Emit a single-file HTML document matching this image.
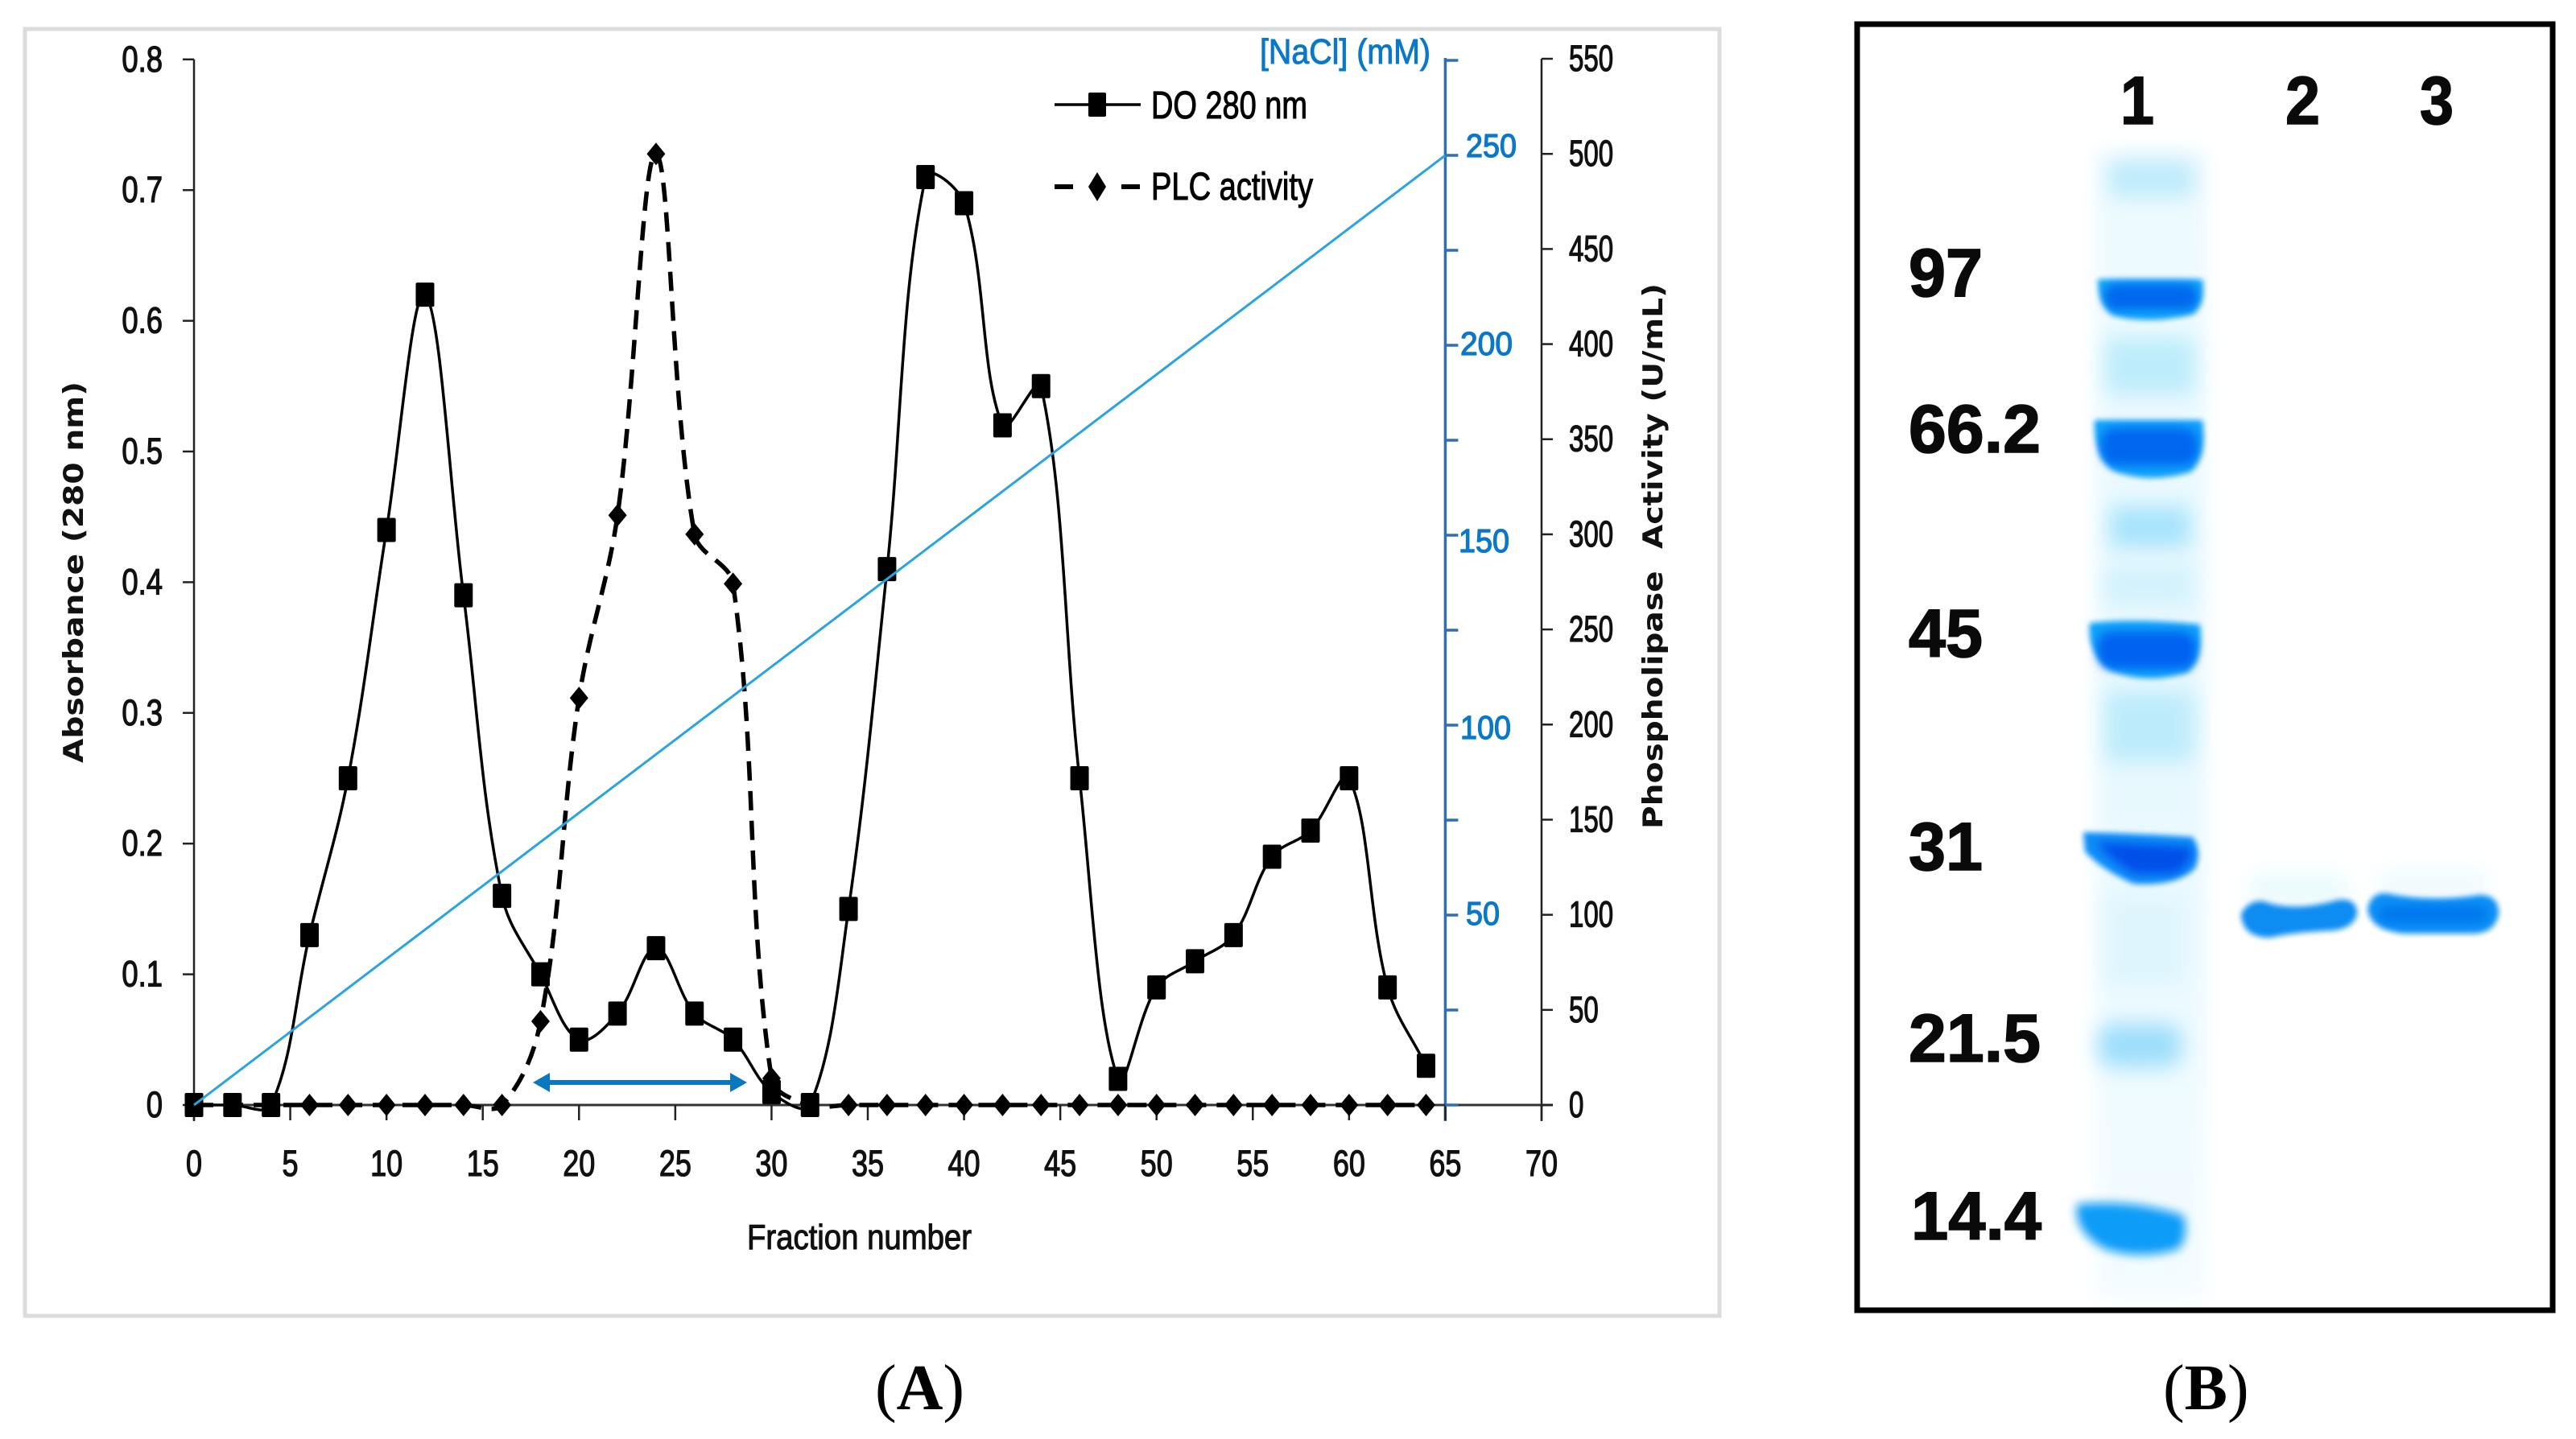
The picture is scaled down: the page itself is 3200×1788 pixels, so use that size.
<!DOCTYPE html>
<html>
<head>
<meta charset="utf-8">
<title>Chromatography and SDS-PAGE</title>
<style>
html,body{margin:0;padding:0;background:#fff;width:3200px;height:1788px;overflow:hidden}
svg{position:absolute;left:0;top:0}
text{font-family:"Liberation Sans",sans-serif}
.verd{font-family:"DejaVu Sans",sans-serif;font-weight:bold;fill:#111}
.blue{fill:#0a78c8;stroke:#0a78c8;stroke-width:1.3;font-size:41px}
.gel{font-weight:bold;font-size:84px;fill:#0a0a0a;stroke:#0a0a0a;stroke-width:1.6}
.cap{font-family:"Liberation Serif",serif;font-size:80px;fill:#000}
</style>
</head>
<body>
<svg id="fig" xmlns="http://www.w3.org/2000/svg" width="3200" height="1788" viewBox="0 0 3200 1788">
  <defs>
    <filter id="b2" x="-30%" y="-50%" width="160%" height="200%"><feGaussianBlur stdDeviation="3.5"/></filter>
    <filter id="b5" x="-30%" y="-50%" width="160%" height="200%"><feGaussianBlur stdDeviation="6"/></filter>
    <filter id="b9" x="-50%" y="-80%" width="200%" height="260%"><feGaussianBlur stdDeviation="13"/></filter>
    <filter id="b12" x="-30%" y="-5%" width="160%" height="110%"><feGaussianBlur stdDeviation="12"/></filter>
    <linearGradient id="laneGrad" x1="0" y1="0" x2="0" y2="1">
      <stop offset="0" stop-color="#eefafe"/><stop offset=".5" stop-color="#e6f8fe"/><stop offset="1" stop-color="#f4fcff"/>
    </linearGradient>
  </defs>

  <rect x="31" y="36" width="2105" height="1599" fill="#fff" stroke="#dcdcdc" stroke-width="5"/>
  <g id="chart"></g>

  <text class="verd" font-size="34" textLength="474" lengthAdjust="spacingAndGlyphs" transform="translate(103,948) rotate(-90)">Absorbance (280 nm)</text>
  <text class="verd" font-size="34" textLength="678" lengthAdjust="spacingAndGlyphs" xml:space="preserve" transform="translate(2065,1030) rotate(-90)">Phospholipase  Activity (U/mL)</text>
  <text x="928" y="1552" font-size="44" fill="#111" stroke="#111" stroke-width="1.1" textLength="279" lengthAdjust="spacingAndGlyphs">Fraction number</text>

  <text x="1565" y="79" font-size="44" fill="#0a78c8" stroke="#0a78c8" stroke-width="1" textLength="212" lengthAdjust="spacingAndGlyphs">[NaCl] (mM)</text>
  <text class="blue" x="1821" y="195" textLength="63" lengthAdjust="spacingAndGlyphs">250</text>
  <text class="blue" x="1814" y="441" textLength="65" lengthAdjust="spacingAndGlyphs">200</text>
  <text class="blue" x="1812" y="686" textLength="63" lengthAdjust="spacingAndGlyphs">150</text>
  <text class="blue" x="1814" y="918" textLength="63" lengthAdjust="spacingAndGlyphs">100</text>
  <text class="blue" x="1821" y="1149" textLength="42" lengthAdjust="spacingAndGlyphs">50</text>

  <g>
    <line x1="1310" y1="130" x2="1417" y2="130" stroke="#000" stroke-width="3.5"/>
    <rect x="1352" y="115" width="22" height="30" rx="2" fill="#000"/>
    <text x="1430" y="147" font-size="48" fill="#000" stroke="#000" stroke-width="1.1" textLength="194" lengthAdjust="spacingAndGlyphs">DO 280 nm</text>
    <line x1="1310" y1="232" x2="1333" y2="232" stroke="#000" stroke-width="6"/>
    <line x1="1393" y1="232" x2="1416" y2="232" stroke="#000" stroke-width="6"/>
    <polygon points="1363,214 1374,232 1363,250 1352,232" fill="#000"/>
    <text x="1430" y="248" font-size="48" fill="#000" stroke="#000" stroke-width="1.1" textLength="201" lengthAdjust="spacingAndGlyphs">PLC activity</text>
  </g>

  <g fill="#0a78bd">
    <rect x="675" y="1342" width="240" height="6"/>
    <polygon points="662,1345 683,1333 683,1357"/>
    <polygon points="928,1345 907,1333 907,1357"/>
  </g>

  <text class="cap" x="1087" y="1751">(<tspan font-weight="bold">A</tspan>)</text>

  <!-- Gel panel -->
  <g>
    <rect x="2604" y="185" width="136" height="1430" fill="url(#laneGrad)" filter="url(#b12)"/>
    <rect x="2620" y="200" width="105" height="45" fill="#bfeafb" filter="url(#b9)"/>
    <rect x="2616" y="420" width="110" height="70" fill="#bdecfc" filter="url(#b9)"/>
    <rect x="2622" y="630" width="98" height="50" fill="#a6e3fc" filter="url(#b9)"/>
    <rect x="2616" y="705" width="108" height="45" fill="#d2f2fd" filter="url(#b9)"/>
    <rect x="2616" y="860" width="108" height="85" fill="#bcebfc" filter="url(#b9)"/>
    <rect x="2616" y="1115" width="98" height="110" fill="#def5fd" filter="url(#b9)"/>
    <rect x="2795" y="1085" width="120" height="40" fill="#eafafd" filter="url(#b9)"/>
    <rect x="2955" y="1080" width="135" height="35" fill="#eefafe" filter="url(#b9)"/>

    <g>
      <path d="M2606 347 L2736 347 Q2740 375 2725 390 Q2670 404 2625 392 Q2606 378 2606 347Z" fill="#0ea4fb" filter="url(#b2)"/>
      <rect x="2614" y="353" width="116" height="32" rx="14" fill="#0068ee" filter="url(#b5)"/>
    </g>
    <g>
      <path d="M2602 522 L2736 522 Q2742 565 2722 586 Q2670 602 2625 585 Q2600 565 2602 522Z" fill="#0ea0fb" filter="url(#b2)"/>
      <rect x="2610" y="532" width="120" height="46" rx="18" fill="#0066f0" filter="url(#b5)"/>
    </g>
    <g>
      <path d="M2596 774 Q2660 768 2733 776 Q2738 815 2718 835 Q2665 852 2620 832 Q2592 810 2596 774Z" fill="#0ea0fb" filter="url(#b2)"/>
      <rect x="2606" y="785" width="122" height="46" rx="18" fill="#0062f0" filter="url(#b5)"/>
    </g>
    <g>
      <path d="M2588 1034 Q2660 1036 2724 1040 Q2736 1060 2726 1080 Q2700 1102 2650 1098 Q2610 1080 2590 1058Z" fill="#0c8ef8" filter="url(#b2)"/>
      <path d="M2604 1046 L2722 1052 Q2726 1075 2700 1086 L2652 1086 Q2620 1068 2604 1046Z" fill="#0050ea" filter="url(#b5)"/>
    </g>
    <rect x="2606" y="1272" width="104" height="54" rx="20" fill="#9ddefb" filter="url(#b9)"/>
    <g>
      <path d="M2580 1496 Q2650 1490 2712 1510 Q2720 1535 2706 1552 Q2660 1566 2615 1552 Q2575 1530 2580 1496Z" fill="#0e9cf8" filter="url(#b5)"/>
    </g>
    <g>
      <path d="M2784 1135 Q2795 1117 2812 1120 Q2850 1134 2905 1118 Q2928 1116 2928 1135 Q2925 1152 2900 1156 Q2850 1158 2820 1165 Q2785 1165 2784 1135Z" fill="#0a8cf2" filter="url(#b2)"/>
    </g>
    <g>
      <path d="M2941 1130 Q2945 1108 2965 1110 Q3020 1122 3080 1112 Q3104 1112 3104 1135 Q3100 1158 3075 1160 L2985 1160 Q2945 1155 2941 1130Z" fill="#0a90f5" filter="url(#b2)"/>
      <rect x="2955" y="1125" width="135" height="22" rx="10" fill="#0078f0" filter="url(#b5)"/>
    </g>

    <text class="gel" x="2371" y="368" textLength="92" lengthAdjust="spacingAndGlyphs">97</text>
    <text class="gel" x="2371" y="562" textLength="164" lengthAdjust="spacingAndGlyphs">66.2</text>
    <text class="gel" x="2371" y="816" textLength="92" lengthAdjust="spacingAndGlyphs">45</text>
    <text class="gel" x="2371" y="1081" textLength="92" lengthAdjust="spacingAndGlyphs">31</text>
    <text class="gel" x="2371" y="1319" textLength="164" lengthAdjust="spacingAndGlyphs">21.5</text>
    <text class="gel" x="2374" y="1540" textLength="162" lengthAdjust="spacingAndGlyphs">14.4</text>
    <text class="gel" x="2634" y="154" textLength="42" lengthAdjust="spacingAndGlyphs">1</text>
    <text class="gel" x="2839" y="154" textLength="43" lengthAdjust="spacingAndGlyphs">2</text>
    <text class="gel" x="3006" y="154" textLength="42" lengthAdjust="spacingAndGlyphs">3</text>
    <rect x="2307" y="30" width="864" height="1598" fill="none" stroke="#000" stroke-width="7"/>
  </g>
  <text class="cap" x="2687" y="1751">(<tspan font-weight="bold">B</tspan>)</text>
</svg>

<script>
// Chart data
const fractions = [0,2,4,6,8,10,12,14,16,18,20,22,24,26,28,30,32,34,36,38,40,42,44,46,48,50,52,54,56,58,60,62,64];
const absorbance = [0,0,0,0.13,0.25,0.44,0.62,0.39,0.16,0.10,0.05,0.07,0.12,0.07,0.05,0.01,0,0.15,0.41,0.71,0.69,0.52,0.55,0.25,0.02,0.09,0.11,0.13,0.19,0.21,0.25,0.09,0.03];
const plcActivity = [0,0,0,0,0,0,0,0,0,44,214,310,500,300,274,14,0,0,0,0,0,0,0,0,0,0,0,0,0,0,0,0,0];
const naclFractions = [0,65];
const naclValues = [0,250];
const xTicks = [0,5,10,15,20,25,30,35,40,45,50,55,60,65,70];
const absTicks = [0,0.1,0.2,0.3,0.4,0.5,0.6,0.7,0.8];
const activityTicks = [0,50,100,150,200,250,300,350,400,450,500,550];
const naclTicks = [0,25,50,75,100,125,150,175,200,225,250,275];

const NS = 'http://www.w3.org/2000/svg';
const root = document.getElementById('chart');
const X0 = 241, XU = 23.914, Y0 = 1373, YAU = 1624, YPU = 2.3636;
const xS = v => X0 + v * XU;
const yA = v => Y0 - v * YAU;
const yP = v => Y0 - v * YPU;
const yN = v => Y0 - v * 4.72;

function mk(tag, attrs) {
  const el = document.createElementNS(NS, tag);
  for (const k in attrs) el.setAttribute(k, attrs[k]);
  root.appendChild(el);
  return el;
}
// Spreadsheet-style smoothing: tangent weighted by neighbouring chord lengths
function smooth(pts) {
  const K = 0.36;
  const dist = (a, b) => Math.hypot(a[0] - b[0], a[1] - b[1]);
  let d = 'M' + pts[0][0].toFixed(1) + ' ' + pts[0][1].toFixed(1);
  for (let i = 0; i < pts.length - 1; i++) {
    const p0 = pts[Math.max(i - 1, 0)], p1 = pts[i], p2 = pts[i + 1], p3 = pts[Math.min(i + 2, pts.length - 1)];
    const d01 = dist(p0, p1), d12 = dist(p1, p2), d23 = dist(p2, p3);
    const w1 = K * d12 / ((d01 + d12) || 1), w2 = K * d12 / ((d12 + d23) || 1);
    const c1x = p1[0] + (p2[0] - p0[0]) * w1, c1y = p1[1] + (p2[1] - p0[1]) * w1;
    const c2x = p2[0] - (p3[0] - p1[0]) * w2, c2y = p2[1] - (p3[1] - p1[1]) * w2;
    d += 'C' + [c1x, c1y, c2x, c2y, p2[0], p2[1]].map(n => n.toFixed(1)).join(' ');
  }
  return d;
}
function numLabel(str, x, y, anchor, sx) {
  const t = mk('text', {
    transform: 'translate(' + x + ',' + y + ') scale(' + sx + ',1)',
    'text-anchor': anchor, 'font-size': 45, fill: '#111', stroke: '#111', 'stroke-width': 1.3
  });
  t.textContent = str;
  return t;
}

// Axes
const leftAxis = mk('line', {x1: xS(0), y1: yA(0.8), x2: xS(0), y2: Y0 + 20, stroke: '#222', 'stroke-width': 2.5});


const rightAxis = mk('line', {x1: xS(70), y1: yP(550), x2: xS(70), y2: Y0 + 20, stroke: '#222', 'stroke-width': 2.5});


const naclAxis = mk('line', {x1: xS(65), y1: yN(275) - 3, x2: xS(65), y2: Y0 + 20, stroke: '#2f6fb5', 'stroke-width': 3.5});


const xAxis = mk('line', {x1: xS(0), y1: Y0, x2: xS(70) + 14, y2: Y0, stroke: '#333', 'stroke-width': 3});



xTicks.forEach(v => {
  const tick = mk('line', {x1: xS(v), y1: Y0, x2: xS(v), y2: Y0 + 19, stroke: '#222', 'stroke-width': 2.5});
  
  
  const lab = numLabel(String(v), xS(v), Y0 + 88, 'middle', 0.8);
  
  
});
absTicks.forEach(v => {
  const tick = mk('line', {x1: xS(0) - 14, y1: yA(v), x2: xS(0), y2: yA(v), stroke: '#222', 'stroke-width': 2.5});
  
  
  const lab = numLabel(String(v), 202, yA(v) + 15, 'end', 0.81);
  
  
});
activityTicks.forEach(v => {
  const tick = mk('line', {x1: xS(70), y1: yP(v), x2: xS(70) + 14, y2: yP(v), stroke: '#222', 'stroke-width': 2.5});
  
  
  const lab = numLabel(String(v), 1949, yP(v) + 15, 'start', 0.735);
  
  
});
naclTicks.forEach(v => {
  const tick = mk('line', {x1: xS(65), y1: yN(v), x2: xS(65) + 16, y2: yN(v), stroke: '#2f6fb5', 'stroke-width': 3.5});
  
  
});

// PLC activity series
const plcPts = fractions.map((f, i) => [xS(f), yP(plcActivity[i])]);
const plcLine = mk('path', {d: smooth(plcPts), fill: 'none', stroke: '#000', 'stroke-width': 5.5, 'stroke-dasharray': '24 13'});


plcPts.forEach(p => {
  const px = p[0], py = p[1];
  const dia = mk('polygon', {
    points: [px, py - 14, px + 11.5, py, px, py + 14, px - 11.5, py].join(' '),
    fill: '#000'
  });
  
  
});

// DO 280 series
const absPts = fractions.map((f, i) => [xS(f), yA(absorbance[i])]);
const absLine = mk('path', {d: smooth(absPts), fill: 'none', stroke: '#000', 'stroke-width': 3.5});


absPts.forEach(p => {
  const sq = mk('rect', {x: p[0] - 11.5, y: p[1] - 15, width: 23, height: 30, rx: 2, fill: '#000'});
  
  
});

// NaCl gradient
const naclLine = mk('line', {
  x1: xS(naclFractions[0]), y1: yN(naclValues[0]),
  x2: xS(naclFractions[1]), y2: yN(naclValues[1]),
  stroke: '#2aa3e2', 'stroke-width': 3
});


</script>
</body>
</html>
